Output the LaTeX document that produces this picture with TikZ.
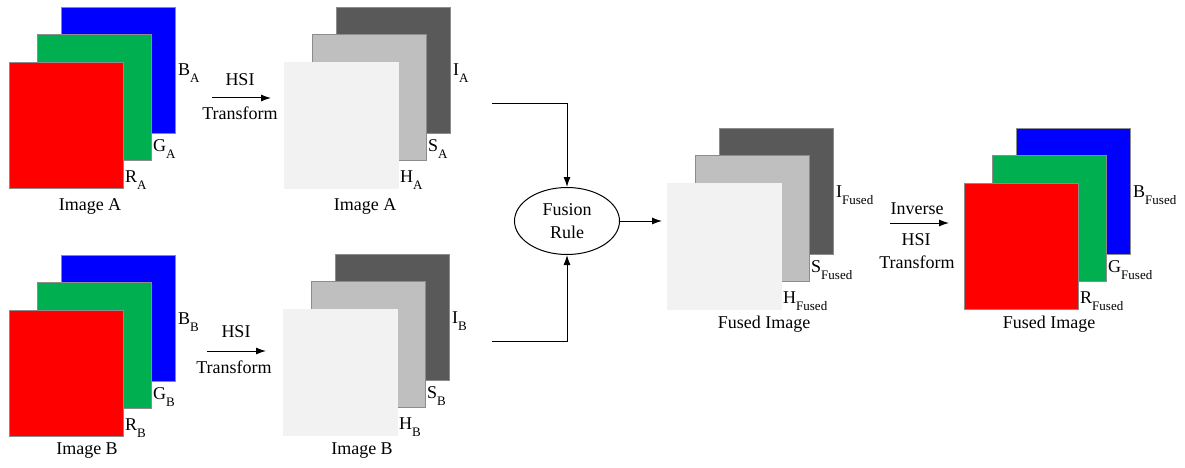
\documentclass[tikz,border=0pt]{standalone}
\usepackage{fontspec}
\setmainfont{Liberation Serif}
\usetikzlibrary{arrows.meta,shapes.geometric}
\definecolor{cR}{HTML}{FF0000}
\definecolor{cG}{HTML}{00B050}
\definecolor{cB}{HTML}{0000FF}
\definecolor{cD}{HTML}{595959}
\definecolor{cM}{HTML}{BFBFBF}
\definecolor{cL}{HTML}{F2F2F2}
\definecolor{edgegray}{HTML}{8C8C8C}
\newcommand{\chan}[2]{#1\raisebox{-7pt}{\fontsize{13pt}{13pt}\selectfont #2}}
\tikzset{
  plane/.style={rectangle, draw=edgegray, line width=1pt, minimum width=114pt, minimum height=126pt, inner sep=0pt, anchor=north west},
  lbl/.style={font=\fontsize{18pt}{18pt}\selectfont, inner sep=0pt, anchor=base west},
  txt/.style={font=\fontsize{18pt}{18pt}\selectfont, inner sep=0pt, anchor=base},
  conn/.style={line width=1pt, -{Latex[length=10pt,width=7pt]}},
}
% name, front x, front y, back colour, mid colour, front colour, back label, mid label, front label
\newcommand{\planestack}[9]{%
  \node[plane, fill=#4] (#1-back) at (#2+52,#3-55) {};
  \node[plane, fill=#5] (#1-mid) at (#2+28,#3-28) {};
  \node[plane, fill=#6, draw=#6] (#1-front) at (#2,#3) {};
  \node[lbl] (#1-lb) at (#2+169,#3+14) {#7};
  \node[lbl] (#1-lm) at (#2+144,#3+89) {#8};
  \node[lbl] (#1-lf) at (#2+116,#3+120) {#9};
}
\newcommand{\rgbstack}[9]{%
  \node[plane, fill=#4] (#1-back) at (#2+52,#3-55) {};
  \node[plane, fill=#5] (#1-mid) at (#2+28,#3-28) {};
  \node[plane, fill=#6] (#1-front) at (#2,#3) {};
  \node[lbl] (#1-lb) at (#2+169,#3+14) {#7};
  \node[lbl] (#1-lm) at (#2+144,#3+89) {#8};
  \node[lbl] (#1-lf) at (#2+116,#3+120) {#9};
}
\begin{document}
\begin{tikzpicture}[x=1pt,y=-1pt]
\useasboundingbox[fill=white] (0,0) rectangle (1185,468);

% Image A (RGB)
\rgbstack{rgbA}{9}{62}{cB}{cG}{cR}{\chan{B}{A}}{\chan{G}{A}}{\chan{R}{A}}
\node[txt] (capA1) at (90,210) {Image A};
% Image A (HSI)
\planestack{hsiA}{284}{62}{cD}{cM}{cL}{\chan{I}{A}}{\chan{S}{A}}{\chan{H}{A}}
\node[txt] (capA2) at (365,210) {Image A};

% Image B (RGB)
\rgbstack{rgbB}{9}{310}{cB}{cG}{cR}{\chan{B}{B}}{\chan{G}{B}}{\chan{R}{B}}
\node[txt] (capB1) at (87,454) {Image B};
% Image B (HSI)
\planestack{hsiB}{283}{309}{cD}{cM}{cL}{\chan{I}{B}}{\chan{S}{B}}{\chan{H}{B}}
\node[txt] (capB2) at (362,454) {Image B};

% Fused (HSI)
\planestack{hsiF}{667}{183}{cD}{cM}{cL}{\chan{I}{Fused}}{\chan{S}{Fused}}{\chan{H}{Fused}}
\node[txt] (capF1) at (764,328) {Fused Image};
% Fused (RGB)
\rgbstack{rgbF}{964}{183}{cB}{cG}{cR}{\chan{B}{Fused}}{\chan{G}{Fused}}{\chan{R}{Fused}}
\node[txt] (capF2) at (1049,328) {Fused Image};

% HSI transform A
\coordinate (ta1) at (212,98);
\coordinate (ta2) at (271,98);
\draw[conn] (ta1) -- (ta2);
\node[txt] (hsiAt) at (240,86) {HSI};
\node[txt] (trAt) at (240,120) {Transform};

% HSI transform B
\coordinate (tb1) at (207,351);
\coordinate (tb2) at (266,351);
\draw[conn] (tb1) -- (tb2);
\node[txt] (hsiBt) at (236,337) {HSI};
\node[txt] (trBt) at (234,373) {Transform};

% Inverse HSI transform
\coordinate (ti1) at (890,223);
\coordinate (ti2) at (949,223);
\draw[conn] (ti1) -- (ti2);
\node[txt] (invt) at (917,214) {Inverse};
\node[txt] (hsiFt) at (916,245) {HSI};
\node[txt] (trFt) at (917,268) {Transform};

% Fusion rule
\node[ellipse, draw, line width=1pt, minimum width=105pt, minimum height=67pt, inner sep=0pt,
      align=center, font=\fontsize{18pt}{23pt}\selectfont] (fuse) at (567,221) {Fusion\\Rule};
\coordinate (fa) at (492,104);
\coordinate (fb) at (492,341);
\draw[conn] (fa) -| (fuse.north);
\draw[conn] (fb) -| (fuse.south);
\draw[conn, shorten >=5pt] (fuse.east) -- (fuse.east -| hsiF-front.west);
\end{tikzpicture}
\end{document}
